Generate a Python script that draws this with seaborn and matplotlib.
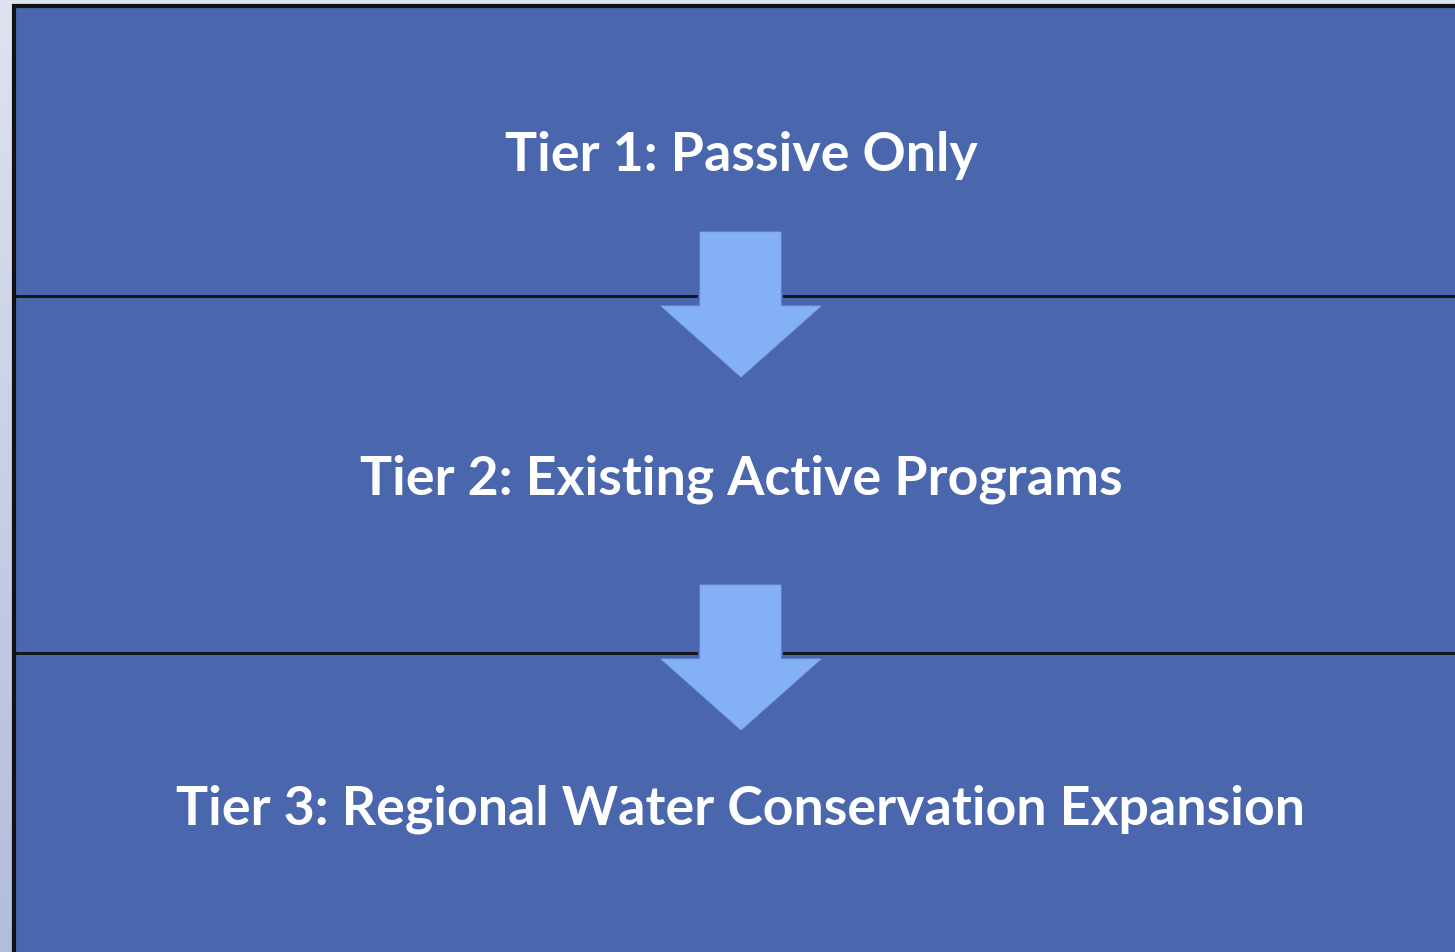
import numpy as np
import matplotlib
matplotlib.use("Agg")
import matplotlib.pyplot as plt
from matplotlib.patches import Rectangle, Polygon
import seaborn as sns

sns.set_style("white")
plt.rcParams['font.family'] = ['Lato', 'DejaVu Sans']

tiers = ["Tier 1: Passive Only",
         "Tier 2: Existing Active Programs",
         "Tier 3: Regional Water Conservation Expansion"]
# band edges (px) and label centers
edges = [7, 297, 654, 953]
label_y = [155, 479, 809]
arrow_top = [233, 586]

W, H = 1455, 953
fig = plt.figure(figsize=(W / 100, H / 100), dpi=100)
ax = fig.add_axes([0, 0, 1, 1])
ax.set_xlim(0, W)
ax.set_ylim(H, 0)
ax.axis("off")

# light gradient behind the box
top = np.array([223, 227, 240]) / 255
bot = np.array([178, 188, 220]) / 255
t = np.linspace(0, 1, 256)[:, None, None]
grad = top + (bot - top) * t
ax.imshow(np.repeat(grad, 2, axis=1), extent=[0, W, H, 0], aspect="auto", zorder=0)

box_fill = "#4a67ad"
ax.add_patch(Rectangle((14, edges[0]), W, H, facecolor=box_fill,
                       edgecolor="#111111", linewidth=3, zorder=1))
for y in edges[1:-1]:
    ax.plot([14, W], [y, y], color="#111111", linewidth=2, zorder=2)

# arrows (box-coloured halo cuts the divider line)
cx = 741
for y0 in arrow_top:
    pts = [(cx - 41, y0), (cx + 40, y0), (cx + 40, y0 + 74), (cx + 80, y0 + 74),
           (cx, y0 + 145), (cx - 80, y0 + 74), (cx - 41, y0 + 74)]
    ax.add_patch(Polygon(pts, closed=True, facecolor="#84b0f5",
                         edgecolor=box_fill, linewidth=3, zorder=3))
    ax.add_patch(Polygon(pts, closed=True, facecolor="#84b0f5",
                         edgecolor="#7aa3e6", linewidth=0.6, zorder=3))

for lab, y in zip(tiers, label_y):
    ax.text(cx, y, lab, ha="center", va="center", color="white",
            fontsize=38.6, fontweight="bold", zorder=4)

fig.savefig("out.png", dpi=100)
